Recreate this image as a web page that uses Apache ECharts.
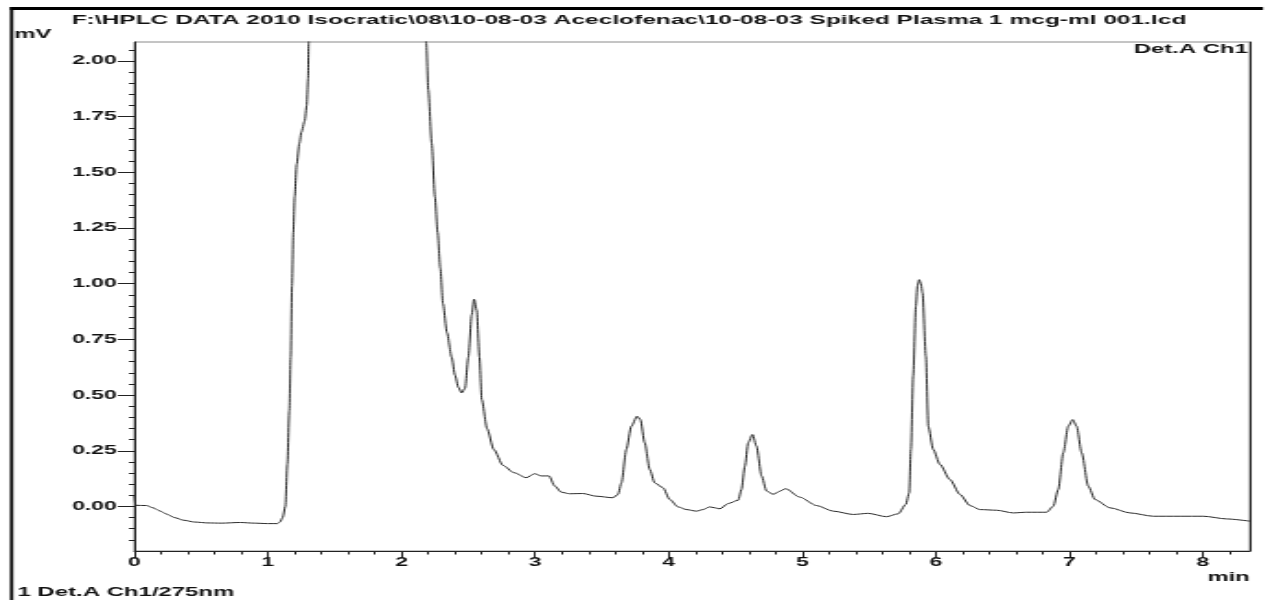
<!DOCTYPE html>
<html>
<head>
<meta charset="utf-8">
<script src="https://cdn.jsdelivr.net/npm/echarts@6/dist/echarts.min.js"></script>
<style>
  html, body { margin: 0; padding: 0; background: #fff; overflow: hidden; }
  /* the printout is a stretched screenshot: lay out at native width, then stretch */
  #chart { width: 690px; height: 600px; transform: scaleX(1.8406); transform-origin: 0 0; }
</style>
</head>
<body>
<div id="chart"></div>
<script>
const fileTitle = 'F:\\HPLC DATA 2010 Isocratic\\08\\10-08-03 Aceclofenac\\10-08-03 Spiked Plasma 1 mcg-ml 001.lcd'
const channelLabel = 'Det.A Ch1'
const footLabel = '1 Det.A Ch1/275nm'

// retention time (min) and detector signal (mV)
const timeMin = [
  0, 0.01, 0.09, 0.14, 0.19, 0.24, 0.30, 0.37, 0.45, 0.55, 0.65, 0.79, 0.90, 1.00, 1.07,
  1.09, 1.11, 1.13, 1.145, 1.16, 1.17, 1.18, 1.19, 1.20, 1.215, 1.235, 1.25, 1.275, 1.29,
  1.30, 1.305, 1.32, 1.36, 1.5, 1.8, 2.0, 2.12, 2.16, 2.185, 2.20, 2.226, 2.25, 2.27, 2.29,
  2.31, 2.34, 2.375, 2.40, 2.425, 2.45, 2.475, 2.50, 2.525, 2.543, 2.563, 2.583, 2.60, 2.64,
  2.69, 2.76, 2.84, 2.934, 2.996, 3.046, 3.104, 3.146, 3.196, 3.258, 3.358, 3.458, 3.583,
  3.62, 3.646, 3.683, 3.72, 3.763, 3.788, 3.82, 3.858, 3.895, 3.957, 4.008, 4.07, 4.133,
  4.207, 4.257, 4.307, 4.345, 4.382, 4.445, 4.52, 4.545, 4.57, 4.595, 4.627, 4.657, 4.695,
  4.732, 4.782, 4.83, 4.875, 4.98, 5.107, 5.231, 5.381, 5.493, 5.63, 5.718, 5.775, 5.80,
  5.813, 5.83, 5.85, 5.862, 5.875, 5.888, 5.90, 5.925, 5.943, 5.98, 6.03, 6.105, 6.18, 6.255,
  6.33, 6.455, 6.579, 6.679, 6.829, 6.879, 6.916, 6.954, 6.991, 7.024, 7.054, 7.091, 7.141,
  7.191, 7.303, 7.453, 7.628, 7.828, 8.003, 8.178, 8.35,
]
const signalMV = [
  0.05, 0.005, 0.004, -0.006, -0.02, -0.034, -0.05, -0.062, -0.07, -0.074, -0.075, -0.072, -0.075, -0.077, -0.077,
  -0.07, -0.05, 0.0, 0.19, 0.43, 0.67, 0.99, 1.23, 1.39, 1.535, 1.63, 1.68, 1.73, 1.80,
  1.92, 2.08, 2.8, 4.0, 6.0, 7.0, 5.0, 3.0, 2.4, 2.08, 1.87, 1.63, 1.39, 1.23, 1.07,
  0.91, 0.78, 0.67, 0.59, 0.535, 0.51, 0.53, 0.67, 0.86, 0.93, 0.88, 0.67, 0.48, 0.35,
  0.256, 0.184, 0.152, 0.129, 0.147, 0.137, 0.137, 0.092, 0.064, 0.057, 0.058, 0.046, 0.039,
  0.054, 0.106, 0.256, 0.36, 0.405, 0.39, 0.286, 0.166, 0.106, 0.084, 0.031, -0.002, -0.014,
  -0.021, -0.014, -0.002, -0.006, -0.011, 0.013, 0.028, 0.076, 0.18, 0.286, 0.323, 0.271, 0.137,
  0.07, 0.054, 0.068, 0.08, 0.042, 0.004, -0.021, -0.036, -0.031, -0.046, -0.033, 0.009, 0.061,
  0.256, 0.585, 0.898, 0.99, 1.018, 1.0, 0.958, 0.674, 0.36, 0.256, 0.189, 0.121, 0.054, 0.004,
  -0.014, -0.017, -0.029, -0.026, -0.026, 0.001, 0.076, 0.241, 0.36, 0.39, 0.36, 0.241, 0.091,
  0.031, -0.006, -0.029, -0.044, -0.044, -0.044, -0.056, -0.066,
]

const xMajorTicks = [0, 1, 2, 3, 4, 5, 6, 7, 8]
const xMinorTicks = [
  0.2, 0.4, 0.6, 0.8, 1.2, 1.4, 1.6, 1.8, 2.2, 2.4, 2.6, 2.8, 3.2, 3.4, 3.6, 3.8,
  4.2, 4.4, 4.6, 4.8, 5.2, 5.4, 5.6, 5.8, 6.2, 6.4, 6.6, 6.8, 7.2, 7.4, 7.6, 7.8, 8.2,
]
const yMajorTicks = [0, 0.25, 0.5, 0.75, 1.0, 1.25, 1.5, 1.75, 2.0]
const yMinorTicks = [
  -0.15, -0.1, -0.05, 0.05, 0.1, 0.15, 0.2, 0.3, 0.35, 0.4, 0.45, 0.55, 0.6, 0.65, 0.7,
  0.8, 0.85, 0.9, 0.95, 1.05, 1.1, 1.15, 1.2, 1.3, 1.35, 1.4, 1.45, 1.55, 1.6, 1.65, 1.7,
  1.8, 1.85, 1.9, 1.95, 2.05,
]

const xMax = 8.35
const yMin = -0.2
const yMax = 2.085

const font = 'Liberation Sans'
const textColor = '#111'
const axisColor = '#222'
const labelStyle = { fontFamily: font, fontWeight: 'bold', fontSize: 12.5, color: textColor }
const nameStyle = { fontFamily: font, fontWeight: 'bold', fontSize: 13, color: textColor }

const chart = echarts.init(document.getElementById('chart'))

chart.setOption({
  animation: false,
  title: {
    text: fileTitle,
    left: 39,
    top: 14,
    padding: 0,
    textStyle: { fontFamily: font, fontWeight: 'bold', fontSize: 13.3, color: textColor },
  },
  grid: {
    left: 73, right: 11, top: 42, bottom: 49,
    show: true, borderColor: '#8a8a8a', borderWidth: 1,
  },
  xAxis: [
    {
      type: 'value', position: 'bottom', min: 0, max: xMax,
      name: 'min', nameLocation: 'end', nameGap: 0,
      nameTextStyle: { ...nameStyle, align: 'right', verticalAlign: 'top', padding: [20, 0, 0, 0] },
      axisLine: { onZero: false, lineStyle: { color: axisColor, width: 1 } },
      axisTick: { customValues: xMajorTicks, length: 7, lineStyle: { color: axisColor } },
      axisLabel: { customValues: xMajorTicks, margin: 5, ...labelStyle },
      splitLine: { show: false },
    },
    {
      type: 'value', position: 'bottom', min: 0, max: xMax,
      axisLine: { show: false, onZero: false },
      axisTick: { customValues: xMinorTicks, length: 3.5, lineStyle: { color: axisColor } },
      axisLabel: { show: false },
      splitLine: { show: false },
    },
  ],
  yAxis: [
    {
      type: 'value', position: 'left', min: yMin, max: yMax,
      name: 'mV', nameLocation: 'end', nameGap: 1,
      nameTextStyle: { ...nameStyle, align: 'right', verticalAlign: 'bottom', padding: [0, 45, 0, 0] },
      axisLine: { show: true, onZero: false, lineStyle: { color: axisColor, width: 1 } },
      axisTick: { customValues: yMajorTicks, length: 9, lineStyle: { color: axisColor } },
      axisLabel: { customValues: yMajorTicks, margin: 9.5, formatter: v => v.toFixed(2), ...labelStyle },
      splitLine: { show: false },
    },
    {
      type: 'value', position: 'left', min: yMin, max: yMax,
      axisLine: { show: false, onZero: false },
      axisTick: { customValues: yMinorTicks, length: 3, lineStyle: { color: axisColor } },
      axisLabel: { show: false },
      splitLine: { show: false },
    },
    {
      type: 'value', position: 'right', min: yMin, max: yMax,
      axisLine: { show: true, onZero: false, lineStyle: { color: axisColor, width: 1 } },
      axisTick: { show: false },
      axisLabel: { show: false },
      splitLine: { show: false },
    },
  ],
  graphic: [
    // outer page frame (top and left edges only)
    { type: 'rect', shape: { x: 5.4, y: 7, width: 680.8, height: 3 }, style: { fill: '#000' }, silent: true },
    { type: 'rect', shape: { x: 5.4, y: 7, width: 1.8, height: 600 }, style: { fill: '#000' }, silent: true },
    {
      type: 'text', x: 678, y: 49,
      style: { text: channelLabel, fill: textColor, font: `bold 13px "${font}"`, align: 'right', verticalAlign: 'middle' },
    },
    {
      type: 'text', x: 9.5, y: 592,
      style: { text: footLabel, fill: textColor, font: `bold 13px "${font}"`, align: 'left', verticalAlign: 'middle' },
    },
  ],
  series: [{
    type: 'line',
    xAxisIndex: 0,
    yAxisIndex: 0,
    data: timeMin.map((t, i) => [t, signalMV[i]]),
    symbol: 'none',
    smooth: 0.25,
    smoothMonotone: 'x',
    clip: true,
    lineStyle: { color: '#2b2b2b', width: 1 },
  }],
})
</script>
</body>
</html>
